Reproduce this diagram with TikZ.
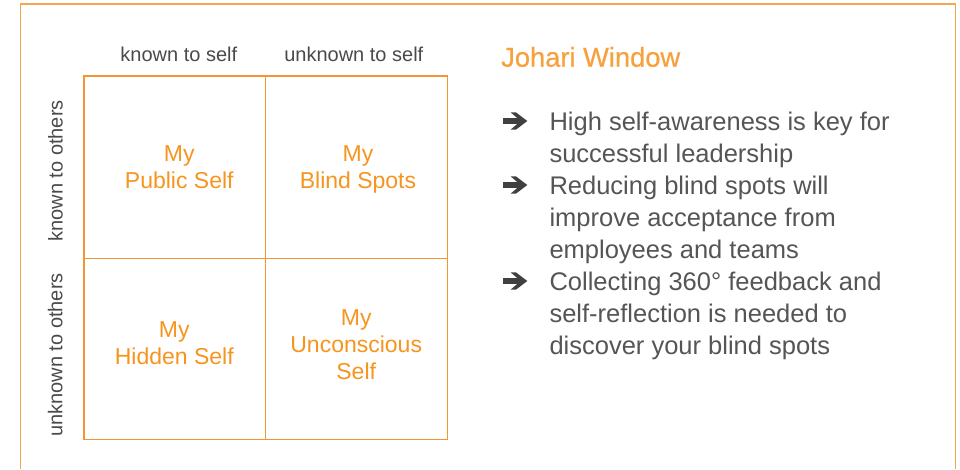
\documentclass[tikz,border=0pt]{standalone}
\usepackage{fontspec}
\setmainfont{Liberation Sans}
\newfontfamily\titlefont[FakeBold=0.5]{Liberation Sans}
\definecolor{orangetxt}{HTML}{F7941D}
\definecolor{titleorange}{HTML}{F8A03C}
\definecolor{gridorange}{HTML}{F39632}
\definecolor{frameorange}{HTML}{F6A550}
\definecolor{labelgray}{HTML}{4A4A4A}
\definecolor{bodygray}{HTML}{555555}
\definecolor{arrowgray}{HTML}{404040}
\tikzset{
  framebox/.style={draw=frameorange, line width=1.1pt},
  gridline/.style={draw=gridorange, line width=1.4pt},
  cellbox/.style={inner sep=0pt},
  axislabel/.style={font=\fontsize{20}{24}\selectfont, text=labelgray, inner sep=0pt, anchor=base},
  celltext/.style={font=\fontsize{23}{27}\selectfont, text=orangetxt, inner sep=0pt, anchor=base},
  titletext/.style={font=\titlefont\fontsize{27.3}{31}\selectfont, text=titleorange, inner sep=0pt, anchor=base west},
  bullettext/.style={font=\fontsize{25.5}{32}\selectfont, text=bodygray, inner sep=0pt, anchor=base west},
  bularrow/.pic={
    \fill[arrowgray] (-12.3,-2.85) -- (6,-2.85) -- (6,2.85) -- (-12.3,2.85) -- cycle;
    \fill[arrowgray] (-4.3,-8.6) -- (1,-8.6) -- (12.3,0) -- (1,8.6) -- (-4.3,8.6) -- (5.7,0) -- cycle;
  }
}
\begin{document}
\begin{tikzpicture}[x=1pt,y=-1pt]
\useasboundingbox (0,0) rectangle (960,469);
\fill[white] (0,0) rectangle (960,469);
% outer frame (bottom edge lies outside the picture)
\coordinate (fbl) at (20.5,469);
\coordinate (ftl) at (20.5,4);
\coordinate (ftr) at (955.5,4);
\coordinate (fbr) at (955.5,469);
\draw[framebox] (fbl) -- (ftl) -- (ftr) -- (fbr);
% window cells
\node[cellbox, minimum width=181pt, minimum height=182pt] (c11) at (174.5,167) {};
\node[cellbox, minimum width=182pt, minimum height=182pt] (c12) at (356,167) {};
\node[cellbox, minimum width=181pt, minimum height=181pt] (c21) at (174.5,348.5) {};
\node[cellbox, minimum width=182pt, minimum height=181pt] (c22) at (356,348.5) {};
\draw[gridline] (c11.north west) rectangle (c22.south east)
  (c11.north east) -- (c21.south east)
  (c11.south west) -- (c12.south east);
% axis labels
\node[axislabel] (kts) at (178.8,61) {known to self};
\node[axislabel] (uts) at (353.8,61) {unknown to self};
\node[axislabel, rotate=90] (kto) at (62.5,170.8) {known to others};
\node[axislabel, rotate=90] (uto) at (62.3,355) {unknown to others};
% cell texts
\node[celltext] (pa) at (179.3,161) {My};
\node[celltext] (pb) at (179.3,188.3) {Public Self};
\node[celltext] (ba) at (358,161) {My};
\node[celltext] (bb) at (358,188.3) {Blind Spots};
\node[celltext] (ha) at (174.3,337.7) {My};
\node[celltext] (hb) at (174.3,364.3) {Hidden Self};
\node[celltext] (ua) at (356.2,325) {My};
\node[celltext] (ub) at (356.2,352.7) {Unconscious};
\node[celltext] (uc) at (356.2,379.3) {Self};
% title
\node[titletext] (title) at (501,66.7) {Johari Window};
% bullets
\pic (ar1) at (515,121) {bularrow};
\pic (ar2) at (515,185) {bularrow};
\pic (ar3) at (515,281) {bularrow};
\node[bullettext] (b1a) at (549.3,130.5) {High self-awareness is key for};
\node[bullettext] (b1b) at (549.3,162.5) {successful leadership};
\node[bullettext] (b2a) at (549.3,194.5) {Reducing blind spots will};
\node[bullettext] (b2b) at (549.3,226.5) {improve acceptance from};
\node[bullettext] (b2c) at (549.3,258.5) {employees and teams};
\node[bullettext] (b3a) at (549.3,290.5) {Collecting 360° feedback and};
\node[bullettext] (b3b) at (549.3,322.5) {self-reflection is needed to};
\node[bullettext] (b3c) at (549.3,354.5) {discover your blind spots};
\end{tikzpicture}
\end{document}
